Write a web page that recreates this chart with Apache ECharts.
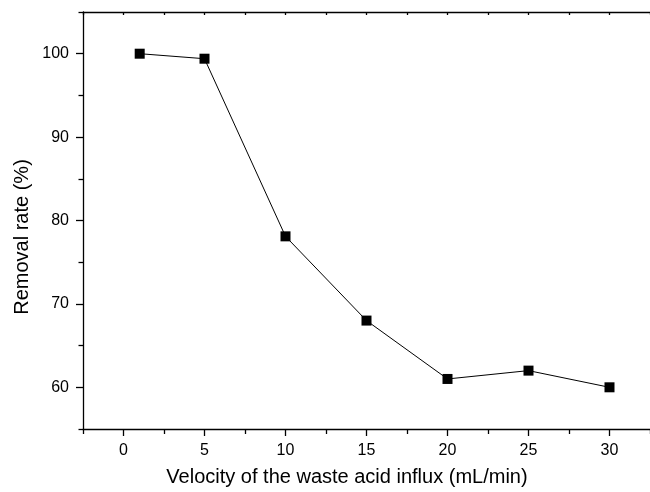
<!DOCTYPE html>
<html>
<head>
<meta charset="utf-8">
<script src="https://cdn.jsdelivr.net/npm/echarts@6/dist/echarts.min.js"></script>
<style>html,body{margin:0;padding:0;background:#fff;}#c{width:650px;height:492px;}</style>
</head>
<body>
<div id="c"></div>
<script>
const velocity = [1, 5, 10, 15, 20, 25, 30];
const removalRate = [100, 99.4, 78.1, 68, 61, 62, 60];
const xTickLabels = [0, 5, 10, 15, 20, 25, 30];
const xMinorTicks = [-2.5, 2.5, 7.5, 12.5, 17.5, 22.5, 27.5, 32.5];
const yTickLabels = [60, 70, 80, 90, 100];
const yMinorTicks = [55, 65, 75, 85, 95, 105];
const xTitle = 'Velocity of the waste acid influx (mL/min)';
const yTitle = 'Removal rate (%)';

const FONT = 'Liberation Sans, Arial, Helvetica, sans-serif';
const chart = echarts.init(document.getElementById('c'), null, {renderer: 'canvas'});
const lineStyle = {color: '#000', width: 1.3};
const baseX = {type: 'value', min: -2.5, max: 32.5, splitLine: {show: false}};
const baseY = {type: 'value', min: 55, max: 105, splitLine: {show: false}};

chart.setOption({
  animation: false,
  backgroundColor: '#fff',
  grid: {left: 83, top: 12, right: -41, bottom: 63, containLabel: false},
  xAxis: [
    Object.assign({}, baseX, {
      position: 'bottom',
      axisLine: {show: true, onZero: false, lineStyle: lineStyle},
      axisTick: {show: true, length: 7, inside: false, customValues: xTickLabels, lineStyle: lineStyle},
      axisLabel: {show: true, customValues: xTickLabels, margin: 14, color: '#000', fontSize: 16, fontFamily: FONT}
    }),
    Object.assign({}, baseX, {
      position: 'bottom',
      axisLine: {show: false, onZero: false},
      axisTick: {show: true, length: 5, inside: false, customValues: xMinorTicks, lineStyle: lineStyle},
      axisLabel: {show: false}
    }),
    Object.assign({}, baseX, {
      position: 'top',
      axisLine: {show: true, onZero: false, lineStyle: lineStyle},
      axisTick: {show: true, length: 3, inside: true, customValues: xTickLabels.concat(xMinorTicks), lineStyle: lineStyle},
      axisLabel: {show: false}
    })
  ],
  yAxis: [
    Object.assign({}, baseY, {
      position: 'left',
      axisLine: {show: true, onZero: false, lineStyle: lineStyle},
      axisTick: {show: true, length: 7, inside: false, customValues: yTickLabels, lineStyle: lineStyle},
      axisLabel: {show: true, customValues: yTickLabels, margin: 14, color: '#000', fontSize: 16, fontFamily: FONT}
    }),
    Object.assign({}, baseY, {
      position: 'left',
      axisLine: {show: false, onZero: false},
      axisTick: {show: true, length: 4.5, inside: false, customValues: yMinorTicks, lineStyle: lineStyle},
      axisLabel: {show: false}
    })
  ],
  graphic: [
    {type: 'text', x: 347, y: 477, style: {text: xTitle, fill: '#000', font: '20px ' + FONT, align: 'center', verticalAlign: 'middle'}},
    {type: 'text', rotation: Math.PI / 2, x: 22, y: 237, style: {text: yTitle, fill: '#000', font: '20px ' + FONT, align: 'center', verticalAlign: 'middle'}}
  ],
  series: [{
    type: 'line',
    xAxisIndex: 0,
    yAxisIndex: 0,
    data: velocity.map((v, i) => [v, removalRate[i]]),
    symbol: 'rect',
    symbolSize: 10,
    itemStyle: {color: '#000'},
    lineStyle: {color: '#000', width: 1},
    z: 3
  }]
});
</script>
</body>
</html>
